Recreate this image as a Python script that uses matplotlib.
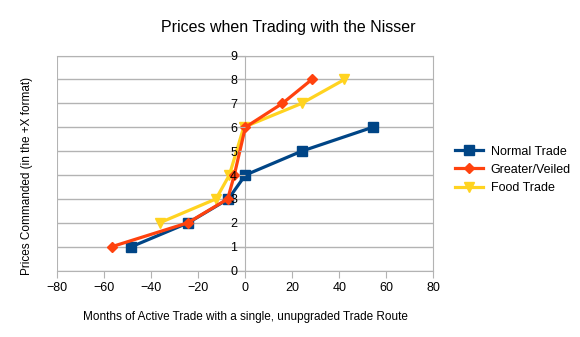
import matplotlib.pyplot as plt

plt.rcParams['font.family'] = ['Liberation Sans', 'DejaVu Sans']

# data
normal_x = [-48.5, -24.3, -7.2, 0, 24, 54.2]
normal_y = [1, 2, 3, 4, 5, 6]
greater_x = [-56.9, -24.5, -7.5, -4.7, 0, 15.8, 28.3]
greater_y = [1, 2, 3, 4, 6, 7, 8]
food_x = [-36.5, -12.5, -6.8, -0.7, 24, 42.2]
food_y = [2, 3, 4, 6, 7, 8]
y_ticks = list(range(0, 10))
x_ticks = list(range(-80, 81, 20))

grey = '#b3b3b3'

fig = plt.figure(figsize=(5.8, 3.37), dpi=100)
ax = fig.add_axes([0.099, 0.197, 0.648, 0.638])

ax.plot(normal_x, normal_y, color='#004586', lw=2.3, marker='s', ms=7,
        label='Normal Trade', zorder=2.1)
ax.plot(greater_x, greater_y, color='#ff420e', lw=2.3, marker='D', ms=5,
        label='Greater/Veiled', zorder=2.2)
ax.plot(food_x, food_y, color='#ffd320', lw=2.3, marker='v', ms=7.5,
        label='Food Trade', zorder=2)

ax.set_xlim(-80, 80)
ax.set_ylim(0, 9)
ax.set_xticks(x_ticks)
ax.set_yticks(y_ticks)
# horizontal grid under the lines, tick labels over them
for yv in y_ticks:
    ax.axhline(yv, color=grey, lw=1, zorder=0.5)
ax.set_axisbelow(False)

for s in ax.spines.values():
    s.set_color(grey)
    s.set_zorder(0.6)
ax.spines['left'].set_position(('data', 0))
ax.axvline(-80, color=grey, lw=1.5, zorder=0.5)

ax.tick_params(axis='x', colors=grey, labelcolor='black', labelsize=9, length=5)
ax.tick_params(axis='y', colors=grey, labelcolor='black', labelsize=9, length=4, pad=2)

ax.set_xlabel('Months of Active Trade with a single, unupgraded Trade Route', fontsize=8.5, labelpad=12)
fig.text(0.046, 0.479, 'Prices Commanded (in the +X format)', rotation=90,
         fontsize=8.5, ha='center', va='center')
fig.text(0.497, 0.919, 'Prices when Trading with the Nisser', fontsize=11.5,
         ha='center', va='center')

fig.legend(loc='center left', bbox_to_anchor=(0.773, 0.496), frameon=False,
           fontsize=9, handlelength=2.3, labelspacing=0.5, borderpad=0,
           handletextpad=0.6)

fig.savefig('out.png', dpi=100)
